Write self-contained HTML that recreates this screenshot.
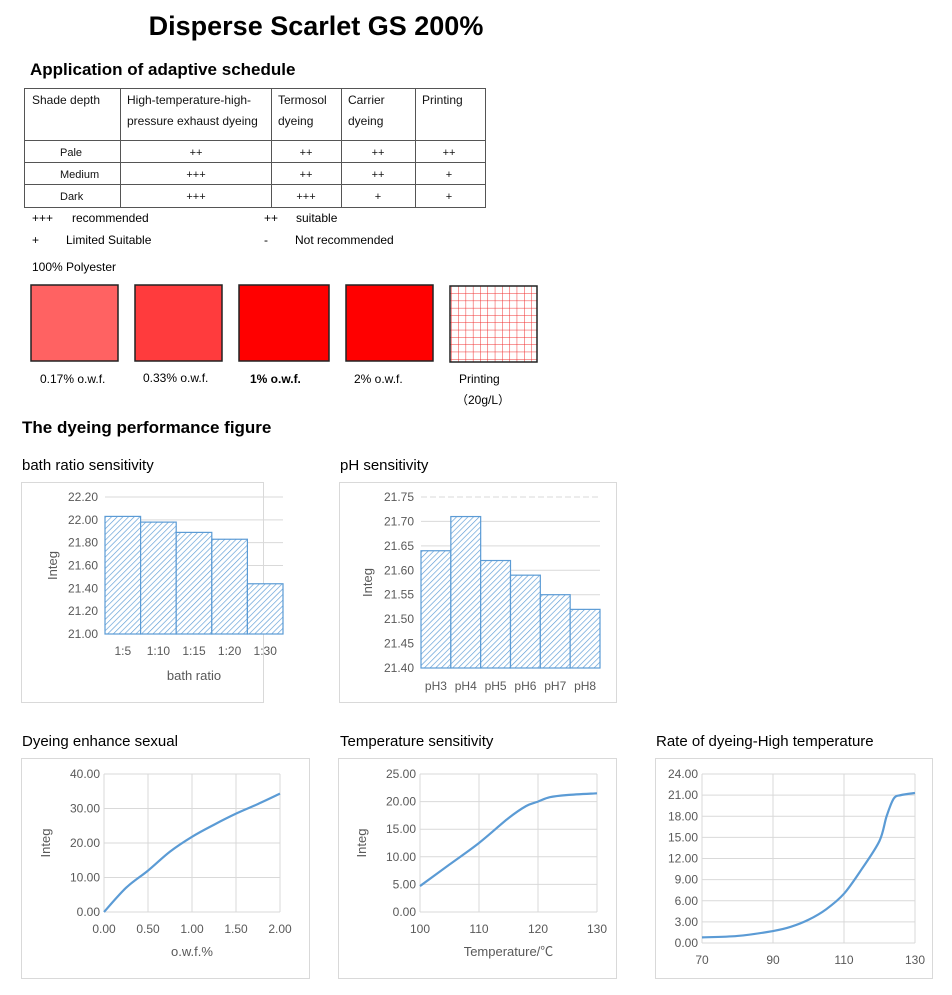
<!DOCTYPE html>
<html><head><meta charset="utf-8"><style>
body{margin:0;background:#fff;width:952px;height:990px;overflow:hidden;font-family:"Liberation Sans","Noto Sans CJK SC",sans-serif}
svg text{font-family:"Liberation Sans","Noto Sans CJK SC",sans-serif}
</style></head><body>
<svg id="page" width="952" height="990" xmlns="http://www.w3.org/2000/svg">
<defs>
<pattern id="hatch" width="4" height="4" patternUnits="userSpaceOnUse" patternTransform="rotate(45)">
<rect width="4" height="4" fill="#fff"/><line x1="0" y1="0" x2="0" y2="4" stroke="#5b9bd5" stroke-width="1.3"/></pattern>
<pattern id="grid" width="7.3" height="7.3" patternUnits="userSpaceOnUse" x="451" y="286">
<rect width="7.3" height="7.3" fill="#fff"/><path d="M0 0V7.3M0 0H7.3" stroke="#f03030" stroke-width="1"/></pattern>
</defs>
<text x="316" y="35" text-anchor="middle" font-size="27" font-weight="bold">Disperse Scarlet GS 200%</text>
<text x="30" y="75" font-size="17" font-weight="bold">Application of adaptive schedule</text>
<g font-size="12" fill="#111">
<rect x="24.5" y="88.5" width="461" height="119" fill="none" stroke="#555"/>
<path d="M120.5 88V207M271.5 88V207M341.5 88V207M415.5 88V207M24 140.5H485M24 162.5H485M24 184.5H485" stroke="#555"/>
<text x="32" y="104">Shade depth</text>
<text x="127" y="104">High-temperature-high-</text><text x="127" y="125">pressure exhaust dyeing</text>
<text x="278" y="104">Termosol</text><text x="278" y="125">dyeing</text>
<text x="348" y="104">Carrier</text><text x="348" y="125">dyeing</text>
<text x="422" y="104">Printing</text>
<g font-size="11">
<text x="60" y="156">Pale</text><text x="60" y="178">Medium</text><text x="60" y="200">Dark</text>
<g text-anchor="middle">
<text x="196" y="156">++</text><text x="306" y="156">++</text><text x="378" y="156">++</text><text x="449" y="156">++</text>
<text x="196" y="178">+++</text><text x="306" y="178">++</text><text x="378" y="178">++</text><text x="449" y="178">+</text>
<text x="196" y="200">+++</text><text x="306" y="200">+++</text><text x="378" y="200">+</text><text x="449" y="200">+</text>
</g></g></g>
<g font-size="12">
<text x="32" y="222">+++</text><text x="72" y="222">recommended</text>
<text x="264" y="222">++</text><text x="296" y="222">suitable</text>
<text x="32" y="244">+</text><text x="66" y="244">Limited Suitable</text>
<text x="264" y="244">-</text><text x="295" y="244">Not recommended</text>
<text x="32" y="271">100% Polyester</text>
</g>
<g stroke="#222" stroke-width="1.5">
<rect x="31" y="285" width="87" height="76" fill="#ff6262"/>
<rect x="135" y="285" width="87" height="76" fill="#ff3b3d"/>
<rect x="239" y="285" width="90" height="76" fill="#ff0000"/>
<rect x="346" y="285" width="87" height="76" fill="#ff0000"/>
<rect x="450" y="286" width="87" height="76" fill="url(#grid)"/>
</g>
<g font-size="12">
<text x="40" y="383">0.17% o.w.f.</text><text x="143" y="382">0.33% o.w.f.</text>
<text x="250" y="383" font-weight="bold">1% o.w.f.</text><text x="354" y="383">2% o.w.f.</text>
<text x="459" y="383">Printing</text><text x="456" y="404">（20g/L）</text>
</g>
<text x="22" y="433" font-size="17" font-weight="bold">The dyeing performance figure</text>
<g font-size="15">
<text x="22" y="470">bath ratio sensitivity</text><text x="340" y="470">pH sensitivity</text>
<text x="22" y="746">Dyeing enhance sexual</text><text x="340" y="746">Temperature sensitivity</text>
<text x="656" y="746">Rate of dyeing-High temperature</text>
</g>
<g id="charts"></g>
</svg>
<script>
// bath ratio chart
const bathCats=["1:5","1:10","1:15","1:20","1:30"];
const bathVals=[22.03,21.98,21.89,21.83,21.44];
const bathTicks=["21.00","21.20","21.40","21.60","21.80","22.00","22.20"];
// pH chart
const phCats=["pH3","pH4","pH5","pH6","pH7","pH8"];
const phVals=[21.64,21.71,21.62,21.59,21.55,21.52];
const phTicks=["21.40","21.45","21.50","21.55","21.60","21.65","21.70","21.75"];
// dyeing enhance
const owfX=[0,0.25,0.5,0.75,1,1.25,1.5,1.75,2];
const owfY=[0,7,12,17.5,21.8,25.3,28.5,31.3,34.3];
const owfXTicks=["0.00","0.50","1.00","1.50","2.00"];
const owfYTicks=["0.00","10.00","20.00","30.00","40.00"];
// temperature
const tempX=[100,105,110,115,118,120,122,125,130];
const tempY=[4.7,8.6,12.5,17,19.2,20,20.8,21.2,21.5];
const tempXTicks=["100","110","120","130"];
const tempYTicks=["0.00","5.00","10.00","15.00","20.00","25.00"];
// rate of dyeing
const rateX=[70,80,90,95,100,105,110,115,120,122,124,126,130];
const rateY=[0.8,1.0,1.7,2.3,3.3,4.8,7,10.5,14.5,18,20.5,21,21.3];
const rateXTicks=["70","90","110","130"];
const rateYTicks=["0.00","3.00","6.00","9.00","12.00","15.00","18.00","21.00","24.00"];

const NS="http://www.w3.org/2000/svg";
const root=document.getElementById('charts');
function mk(tag,attrs,parent){const e=document.createElementNS(NS,tag);for(const k in attrs)e.setAttribute(k,attrs[k]);(parent||root).appendChild(e);return e;}
function txt(s,attrs,parent){const e=mk('text',attrs,parent);e.textContent=s;return e;}
function scale(d0,d1,r0,r1){return v=>r0+(v-d0)*(r1-r0)/(d1-d0);}

function frame(name,x,y,w,h){const g=mk('g',{});
const r=mk('rect',{x:x+.5,y:y+.5,width:w,height:h,fill:'#fff',stroke:'#d9d9d9'},g);


return g;}

function yAxis(g,ticks,ys,x0,x1,labelX,dashTop){
ticks.forEach((t,i)=>{const v=parseFloat(t),y=ys(v);
const l=mk('line',{x1:x0,x2:x1,y1:y,y2:y,stroke:'#d9d9d9'},g);
if(dashTop&&i===ticks.length-1)l.setAttribute('stroke-dasharray','6 3');


const tl=txt(t,{x:labelX,y:y+4,'text-anchor':'end','font-size':12,fill:'#595959'},g);

});}

function barChart(name,cats,vals,ticks,box,px0,px1,py0,py1,catY,xTitle,yTitleX,dashTop){
const g=frame(name,...box);
const v0=parseFloat(ticks[0]),v1=parseFloat(ticks[ticks.length-1]);
const ys=scale(v0,v1,py0,py1);
yAxis(g,ticks,ys,px0,px1,px0-7,dashTop);
const bw=(px1-px0)/cats.length;
cats.forEach((c,i)=>{const y=ys(vals[i]);
const b=mk('rect',{x:px0+i*bw,y:y,width:bw,height:py0-y,fill:'url(#hatch)',stroke:'#5b9bd5','stroke-width':1.2},g);


const l=txt(c,{x:px0+(i+.5)*bw,y:catY,'text-anchor':'middle','font-size':12,fill:'#595959'},g);

});
if(xTitle){const t=txt(xTitle,{x:(px0+px1)/2,y:catY+25,'text-anchor':'middle','font-size':13,fill:'#595959'},g);

}
const yt=txt('Integ',{x:yTitleX,y:(py0+py1)/2,'text-anchor':'middle','font-size':13,fill:'#595959',transform:`rotate(-90 ${yTitleX} ${(py0+py1)/2})`},g);

}

function smoothPath(pts){let d=`M${pts[0][0]},${pts[0][1]}`;
for(let i=0;i<pts.length-1;i++){const p0=pts[Math.max(i-1,0)],p1=pts[i],p2=pts[i+1],p3=pts[Math.min(i+2,pts.length-1)];
const c1=[p1[0]+(p2[0]-p0[0])/6,p1[1]+(p2[1]-p0[1])/6],c2=[p2[0]-(p3[0]-p1[0])/6,p2[1]-(p3[1]-p1[1])/6];
d+=` C${c1[0]},${c1[1]} ${c2[0]},${c2[1]} ${p2[0]},${p2[1]}`;}return d;}

function lineChart(name,xsD,ysD,xT,yT,box,px0,px1,py0,py1,xTitle,yTitle){
const g=frame(name,...box);
const xs=scale(parseFloat(xT[0]),parseFloat(xT[xT.length-1]),px0,px1);
const ys=scale(parseFloat(yT[0]),parseFloat(yT[yT.length-1]),py0,py1);
yAxis(g,yT,ys,px0,px1,px0-4,false);
xT.forEach(t=>{const x=xs(parseFloat(t));
const l=mk('line',{x1:x,x2:x,y1:py1,y2:py0,stroke:'#d9d9d9'},g);


const tl=txt(t,{x:x,y:py0+21,'text-anchor':'middle','font-size':12,fill:'#595959'},g);

});
const pts=xsD.map((v,i)=>[xs(v),ys(ysD[i])]);
const p=mk('path',{d:smoothPath(pts),fill:'none',stroke:'#5b9bd5','stroke-width':2.2},g);


if(xTitle){const t=txt(xTitle,{x:(px0+px1)/2,y:py0+44,'text-anchor':'middle','font-size':13,fill:'#595959'},g);

}
if(yTitle){const cx=px0-54,cy=(py0+py1)/2;const t=txt(yTitle,{x:cx,y:cy,'text-anchor':'middle','font-size':13,fill:'#595959',transform:`rotate(-90 ${cx} ${cy})`},g);

}}

barChart('bath-ratio-chart',bathCats,bathVals,bathTicks,[21,482,242,220],105,283,634,497,655,'bath ratio',57,false);
barChart('ph-chart',phCats,phVals,phTicks,[339,482,277,220],421,600,668,497,690,null,372,true);
lineChart('dyeing-enhance-chart',owfX,owfY,owfXTicks,owfYTicks,[21,758,288,220],104,280,912,774,'o.w.f.%','Integ');
lineChart('temperature-chart',tempX,tempY,tempXTicks,tempYTicks,[338,758,278,220],420,597,912,774,'Temperature/℃','Integ');
lineChart('rate-of-dyeing-chart',rateX,rateY,rateXTicks,rateYTicks,[655,758,277,220],702,915,943,774,null,null);
</script>
</body></html>
